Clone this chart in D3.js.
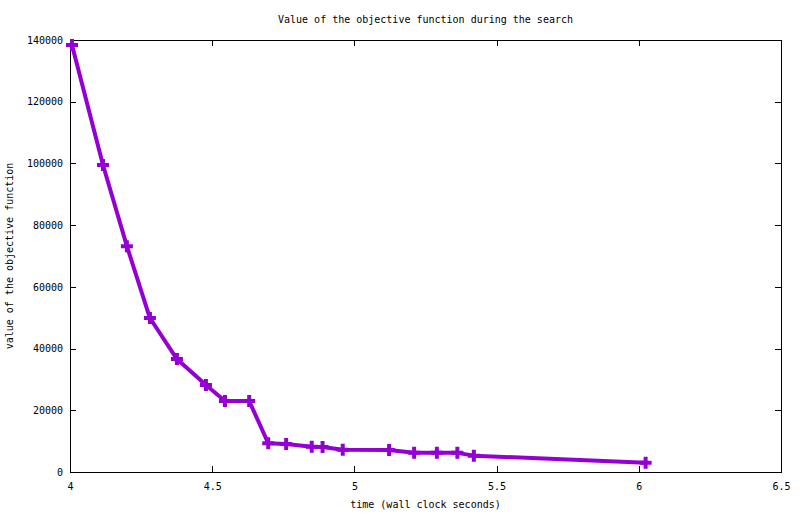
<!DOCTYPE html>
<html>
<head>
<meta charset="utf-8">
<script src="https://cdn.jsdelivr.net/npm/d3@7"></script>
<style>
  body { margin: 0; background: #fff; }
  svg text { font-family: "DejaVu Sans Mono", "Liberation Mono", monospace; font-size: 10px; fill: #000; }
</style>
</head>
<body>
<div class="js-chart"></div>
<script>
// time (wall clock seconds) and objective value at each improvement
var times = [4.007, 4.116, 4.20, 4.281, 4.376, 4.478, 4.545, 4.63, 4.697, 4.76, 4.85, 4.888,
             4.959, 5.122, 5.21, 5.29, 5.362, 5.42, 6.024];
var values = [138400, 99500, 73200, 49900, 36600, 28200, 23000, 23000, 9300, 9100, 8200, 8100,
              7200, 7100, 6250, 6200, 6200, 5300, 3000];
var xTicks = [4, 4.5, 5, 5.5, 6, 6.5];
var yTicks = [0, 20000, 40000, 60000, 80000, 100000, 120000, 140000];

(function() {
  var width = 800
    , height = 514
    , margin = { top: 40, right: 19, bottom: 42, left: 70 }
    , innerW = width - margin.left - margin.right
    , innerH = height - margin.top - margin.bottom
    , lineColor = '#9400d3'
    , tickLen = 6
    ;

  var data = times.map((t, i) => ({ t: t, v: values[i] }));

  var x = d3.scaleLinear().domain([4, 6.5]).range([0, innerW])
    , y = d3.scaleLinear().domain([0, 140000]).range([innerH, 0]);

  var svg = d3.select('.js-chart')
        .append('svg')
          .attr('width', width)
          .attr('height', height)
    , g = svg.append('g')
          .attr('transform', 'translate(' + margin.left + ',' + margin.top + ')')
    ;

  // ticks pointing inwards on all four sides
  g.append('g')
    .attr('transform', 'translate(0,' + innerH + ')')
    .call(d3.axisBottom(x).tickValues(xTicks).tickSize(-tickLen).tickPadding(11)
      .tickFormat(d3.format('')))
    .call(a => a.select('.domain').remove());

  g.append('g')
    .call(d3.axisTop(x).tickValues(xTicks).tickSize(-tickLen).tickFormat(''))
    .call(a => a.select('.domain').remove());

  g.append('g')
    .call(d3.axisLeft(y).tickValues(yTicks).tickSize(-tickLen).tickPadding(7)
      .tickFormat(d3.format('d')))
    .call(a => a.select('.domain').remove());

  g.append('g')
    .attr('transform', 'translate(' + innerW + ',0)')
    .call(d3.axisRight(y).tickValues(yTicks).tickSize(-tickLen).tickFormat(''))
    .call(a => a.select('.domain').remove());

  g.selectAll('.tick line').attr('stroke', '#000').attr('shape-rendering', 'crispEdges');
  g.selectAll('.tick text').attr('fill', '#000')
    .style('font-family', '"DejaVu Sans Mono", monospace').style('font-size', '10px');

  g.append('rect')
    .attr('x', 0).attr('y', 0)
    .attr('width', innerW).attr('height', innerH)
    .attr('fill', 'none')
    .attr('stroke', '#000')
    .attr('shape-rendering', 'crispEdges');

  var line = d3.line()
    .x(d => x(d.t))
    .y(d => y(d.v));

  g.append('path')
    .datum(data)
    .attr('d', line)
    .attr('fill', 'none')
    .attr('stroke', lineColor)
    .attr('stroke-width', 4)
    .attr('stroke-linejoin', 'round');

  var s = 6;
  g.selectAll('.marker')
    .data(data)
    .enter()
    .append('path')
      .attr('class', 'marker')
      .attr('d', d => {
        var cx = x(d.t), cy = y(d.v);
        return 'M' + (cx - s) + ',' + cy + 'H' + (cx + s) + 'M' + cx + ',' + (cy - s) + 'V' + (cy + s);
      })
      .attr('stroke', lineColor)
      .attr('stroke-width', 4)
      .attr('fill', 'none');

  svg.append('text')
    .attr('x', margin.left + innerW / 2)
    .attr('y', 23)
    .attr('text-anchor', 'middle')
    .text('Value of the objective function during the search');

  svg.append('text')
    .attr('x', margin.left + innerW / 2)
    .attr('y', 508)
    .attr('text-anchor', 'middle')
    .text('time (wall clock seconds)');

  svg.append('text')
    .attr('transform', 'translate(13,' + (margin.top + innerH / 2) + ') rotate(-90)')
    .attr('text-anchor', 'middle')
    .text('value of the objective function');
})();
</script>
</body>
</html>
